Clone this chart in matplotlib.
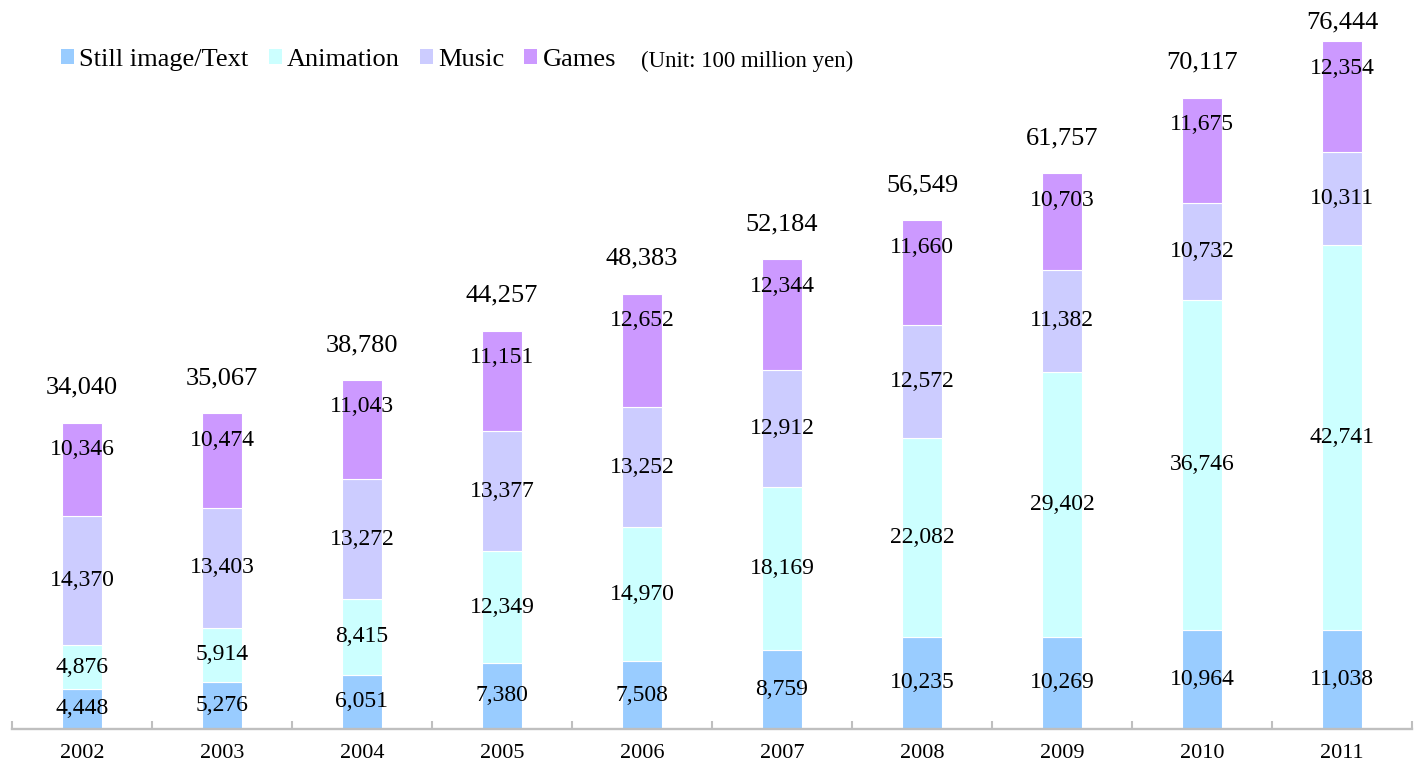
import matplotlib
matplotlib.use("Agg")
import matplotlib.pyplot as plt
from matplotlib.patches import Patch
import numpy as np

years = ["2002", "2003", "2004", "2005", "2006", "2007", "2008", "2009", "2010", "2011"]
still = [4448, 5276, 6051, 7380, 7508, 8759, 10235, 10269, 10964, 11038]
animation = [4876, 5914, 8415, 12349, 14970, 18169, 22082, 29402, 36746, 42741]
music = [14370, 13403, 13272, 13377, 13252, 12912, 12572, 11382, 10732, 10311]
games = [10346, 10474, 11043, 11151, 12652, 12344, 11660, 10703, 11675, 12354]
totals = [34040, 35067, 38780, 44257, 48383, 52184, 56549, 61757, 70117, 76444]
series_names = ["Still image/Text", "Animation", "Music", "Games"]
colors = ["#99CCFF", "#CCFFFF", "#CCCCFF", "#CC99FF"]

plt.rcParams['font.family'] = ['Liberation Serif', 'DejaVu Serif']

W, H = 1414, 765
fig = plt.figure(figsize=(W / 100, H / 100), dpi=100)
ax_bottom_px = 729
ax = fig.add_axes([12 / W, (H - ax_bottom_px) / H, 1400 / W, ax_bottom_px / H])
ymax = 81000
ax.set_ylim(0, ymax)
ax.set_xlim(-0.5, len(years) - 0.5)
px = ymax / ax_bottom_px  # data units per pixel

x = np.arange(len(years))
data = [still, animation, music, games]
bottom = np.zeros(len(years))
bw = 0.29
for vals, c in zip(data, colors):
    vals = np.array(vals, dtype=float)
    ax.bar(x, vals, bw, bottom=bottom, color=c, edgecolor="white", linewidth=0.8)
    bottom += vals

fs = 17
# segment labels
b = np.zeros(len(years))
for i, vals in enumerate(data):
    vals = np.array(vals, dtype=float)
    for j in range(len(years)):
        if i == 3:
            yy = b[j] + vals[j] - 27 * px
        else:
            yy = b[j] + vals[j] / 2
        ax.text(x[j], yy, f"{int(vals[j]):,}", ha="center", va="center", fontsize=fs, color="black")
    b += vals

# totals
for j in range(len(years)):
    yy = min(b[j] + 35 * px, (ax_bottom_px - 22) * px)
    ax.text(x[j], yy, f"{totals[j]:,}", ha="center", va="center", fontsize=19, color="black")

for s in ["top", "right", "left"]:
    ax.spines[s].set_visible(False)
ax.spines["bottom"].set_color("#BFBFBF")
ax.spines["bottom"].set_linewidth(1.7)
ax.set_yticks([])
ax.set_xticks(x)
ax.set_xticklabels(years, fontsize=16)
ax.tick_params(axis="x", which="major", length=0, pad=11)
ax.set_xticks(np.arange(-0.5, len(years)), minor=True)
ax.tick_params(axis="x", which="minor", direction="in", length=6, width=1.5, color="#BFBFBF")

handles = [Patch(facecolor=c, edgecolor="none") for c in colors]
leg = fig.legend(handles, series_names, loc="center left", bbox_to_anchor=(61 / W, 1 - 60 / H),
                 ncol=4, frameon=False, fontsize=19, handlelength=0.5, handleheight=0.5,
                 handletextpad=0.2, columnspacing=0.75, borderaxespad=0, borderpad=0)
fig.text(641 / W, 1 - 61 / H, "(Unit: 100 million yen)", ha="left", va="center", fontsize=16.5)

fig.savefig("out.png", dpi=100)
